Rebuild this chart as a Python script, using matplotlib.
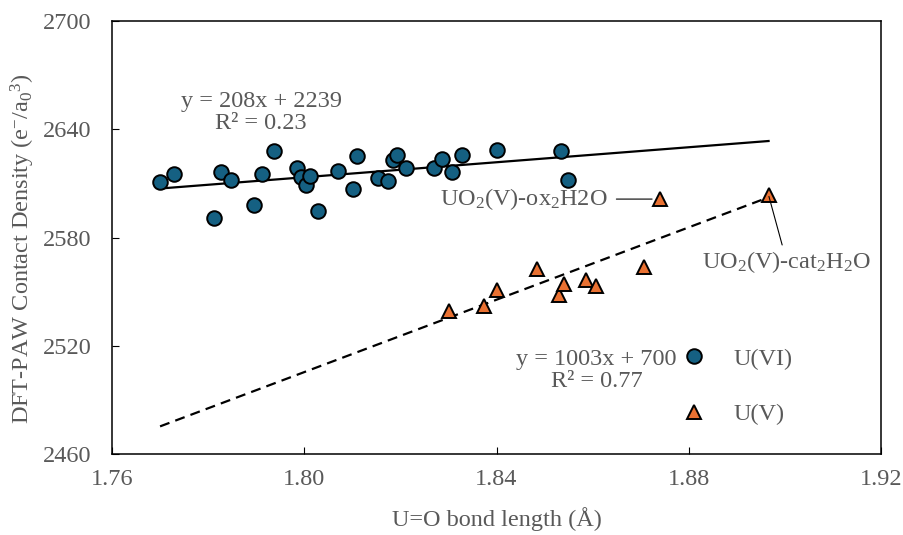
import numpy as np
import matplotlib.pyplot as plt

# U(VI) species: U=O bond length (A) vs contact density
u6_x = [1.7700, 1.7729, 1.7812, 1.7827, 1.7848, 1.7896, 1.7912, 1.7937, 1.7984, 1.7993,
        1.8003, 1.8011, 1.8028, 1.8071, 1.8102, 1.8109, 1.8154, 1.8175, 1.8184, 1.8192,
        1.8212, 1.8269, 1.8287, 1.8307, 1.8328, 1.8400, 1.8534, 1.8549]
u6_y = [2610.6, 2615.1, 2590.7, 2616.1, 2611.7, 2598.0, 2615.2, 2627.9, 2618.6, 2613.3,
        2609.2, 2614.2, 2594.7, 2616.9, 2606.9, 2625.2, 2612.9, 2611.4, 2622.7, 2626.0,
        2618.6, 2618.6, 2623.6, 2616.4, 2626.0, 2628.7, 2627.8, 2611.7]

# U(V) species
u5_x = [1.8302, 1.8373, 1.8400, 1.8484, 1.8531, 1.8540, 1.8586, 1.8607, 1.8706, 1.8741, 1.8966]
u5_y = [2539.4, 2542.0, 2550.9, 2562.5, 2547.9, 2554.2, 2556.4, 2553.3, 2563.8, 2601.3, 2603.5]

# linear trendlines (slope, intercept) as printed on the chart
fit_u6 = (208, 2239)
fit_u5 = (1003, 700)

xticks = [1.76, 1.80, 1.84, 1.88, 1.92]
yticks = [2460, 2520, 2580, 2640, 2700]

blue = '#156082'
orange = '#E97132'
grey = '#595959'
fs = 17.5

plt.rcParams['font.family'] = ['Liberation Serif', 'DejaVu Serif']
plt.rcParams['mathtext.fontset'] = 'custom'
plt.rcParams['mathtext.rm'] = 'Liberation Serif'
plt.rcParams['mathtext.it'] = 'Liberation Serif:italic'
plt.rcParams['font.size'] = fs

fig = plt.figure(figsize=(9.04, 5.35), dpi=100)
ax = fig.add_axes([0.1239, 0.1514, 0.8507, 0.8093])

# trendlines over the full x-range of the data
x_all = u6_x + u5_x
xl = np.array([min(x_all), max(x_all)])
ax.plot(xl, fit_u6[0] * xl + fit_u6[1], color='black', lw=1.6, zorder=2)
ax.plot(xl, fit_u5[0] * xl + fit_u5[1], color='black', lw=1.6,
        linestyle=(0, (4.5, 2.8)), zorder=2)

ax.plot(u6_x, u6_y, 'o', ms=10.5, mfc=blue, mec='black', mew=1.4,
        label='U(VI)', zorder=3)
ax.plot(u5_x, u5_y, '^', ms=10.5, mfc=orange, mec='black', mew=1.4,
        label='U(V)', zorder=3)

ax.set_xlim(1.76, 1.92)
ax.set_ylim(2460, 2700)
ax.set_xticks(xticks)
ax.set_yticks(yticks)
ax.set_xticklabels([f'{t:.2f}' for t in xticks])
ax.tick_params(axis='both', direction='in', length=5, colors='black',
               labelcolor=grey, labelsize=fs)
ax.tick_params(axis='x', pad=11)
ax.tick_params(axis='y', pad=15)
for s in ax.spines.values():
    s.set_linewidth(1.1)
    s.set_color('black')

ax.set_xlabel('U=O bond length (Å)', color=grey, fontsize=fs, labelpad=12)
ax.set_ylabel('DFT-PAW Contact Density (e$^{-}$/a$_{0}$$^{3}$)', color=grey, fontsize=fs)
ax.yaxis.set_label_coords(-0.097, 0.475)

# equations
ax.text(1.791, 2649.5, f'y = {fit_u6[0]}x + {fit_u6[1]}\nR² = 0.23', ha='center',
        va='center', color=grey, fontsize=fs, linespacing=1.05)
ax.text(1.8608, 2506.5, f'y = {fit_u5[0]}x + {fit_u5[1]}\nR² = 0.77', ha='center',
        va='center', color=grey, fontsize=fs, linespacing=1.05)

# labels for the two outlying U(V) complexes
ax.annotate(r'UO$_2$(V)-ox$_2$H2O', xy=(u5_x[9], u5_y[9]), xytext=(1.8632, u5_y[9]),
            ha='right', va='center', color=grey, fontsize=fs,
            arrowprops=dict(arrowstyle='-', color='black', lw=0.8,
                            shrinkA=4, shrinkB=6))
ax.annotate(r'UO$_2$(V)-cat$_2$H$_2$O', xy=(u5_x[10], u5_y[10]), xytext=(1.9004, 2566.4),
            ha='center', va='center', color=grey, fontsize=fs,
            arrowprops=dict(arrowstyle='-', color='black', lw=0.8,
                            shrinkA=1, shrinkB=1))

leg = ax.legend(loc='center left', bbox_to_anchor=(0.7405, 0.156), frameon=False,
                borderpad=0, borderaxespad=0, handlelength=1.0, handletextpad=1.15,
                labelspacing=1.37, fontsize=fs)
for t in leg.get_texts():
    t.set_color(grey)

fig.savefig('out.png', dpi=100)
